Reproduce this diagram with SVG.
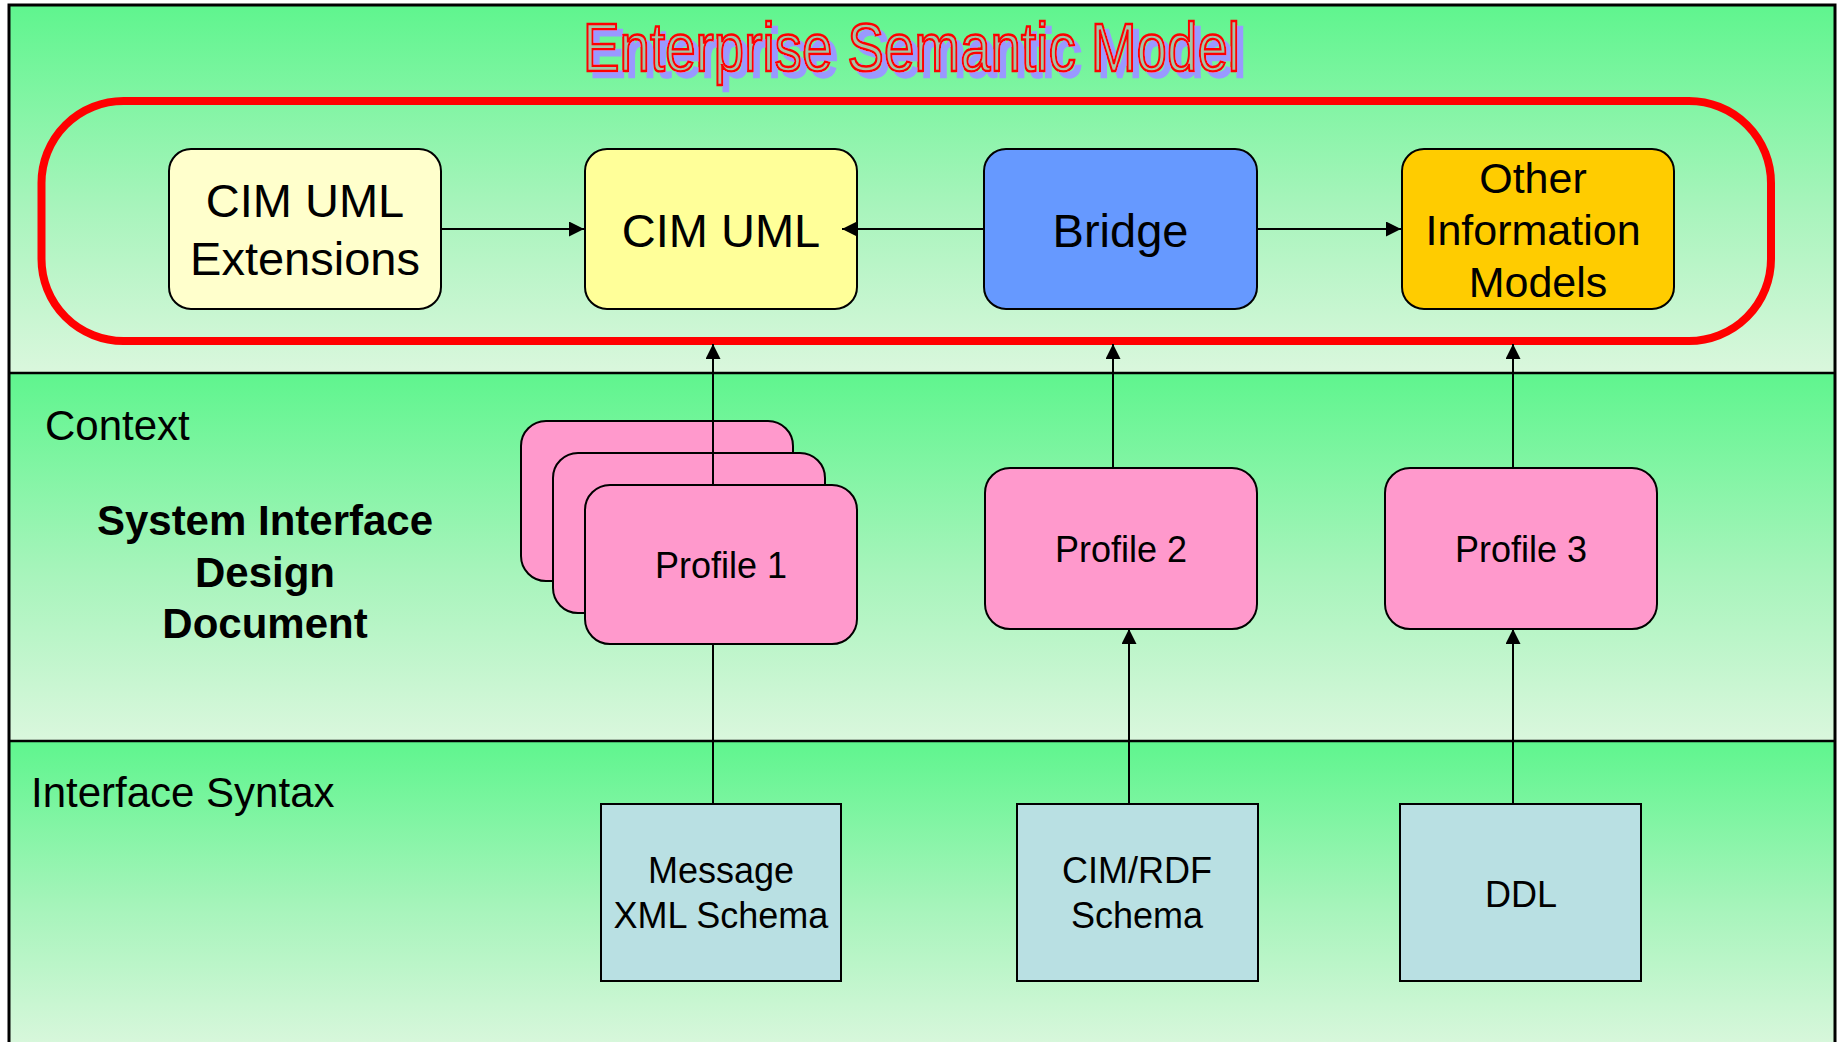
<svg xmlns="http://www.w3.org/2000/svg" width="1837" height="1042" viewBox="0 0 1837 1042">
<style>
  .lbl { font-family: "Liberation Sans", Arial, sans-serif; fill: #000; text-anchor: middle; }
  .node { stroke: #000; stroke-width: 2; }
  .conn { stroke: #000; stroke-width: 2; fill: none; }
  .div { stroke: #000; stroke-width: 2.5; }
</style>
<defs>
  <linearGradient id="band" x1="0" y1="0" x2="0" y2="1">
    <stop offset="0" stop-color="#5FF58E"/>
    <stop offset="0.55" stop-color="#A8F4BC"/>
    <stop offset="1" stop-color="#DAF7DD"/>
  </linearGradient>
  <filter id="shadow" x="-5%" y="-20%" width="115%" height="150%">
    <feFlood flood-color="#9999FF" result="c"/>
    <feComposite in="c" in2="SourceAlpha" operator="in" result="s"/>
    <feOffset in="s" dx="6" dy="6" result="so"/>
    <feMerge>
      <feMergeNode in="so"/>
      <feMergeNode in="SourceGraphic"/>
    </feMerge>
  </filter>
  <marker id="arr" markerUnits="userSpaceOnUse" markerWidth="16" markerHeight="16" refX="15" refY="7.5" orient="auto">
    <path d="M0,0 L15,7.5 L0,15 z" fill="#000"/>
  </marker>
</defs>

<g id="bands">
  <rect x="9" y="5" width="1826" height="368" fill="url(#band)"/>
  <rect x="9" y="373" width="1826" height="368" fill="url(#band)"/>
  <rect x="9" y="741" width="1826" height="310" fill="url(#band)"/>
  <line class="div" x1="9" y1="373" x2="1835" y2="373"/>
  <line class="div" x1="9" y1="741" x2="1835" y2="741"/>
  <rect x="9" y="5" width="1826" height="1060" fill="none" stroke="#000" stroke-width="3"/>
</g>

<g id="title">
  <text x="583" y="71" font-family="'Liberation Sans Narrow', 'Liberation Sans', Arial, sans-serif" font-size="69" fill="#A2C6A8" stroke="#FF0000" stroke-width="2.5" textLength="657" lengthAdjust="spacingAndGlyphs" filter="url(#shadow)">Enterprise Semantic Model</text>
</g>

<g id="esm-boundary">
  <rect x="41.5" y="101" width="1729.5" height="240" rx="82" ry="82" fill="none" stroke="#FF0000" stroke-width="8"/>
</g>

<g id="labels">
  <text x="45" y="440" font-family="'Liberation Sans', Arial, sans-serif" font-size="42">Context</text>
  <text class="lbl" x="265" y="535" font-size="42" font-weight="bold">System Interface</text>
  <text class="lbl" x="265" y="587" font-size="42" font-weight="bold">Design</text>
  <text class="lbl" x="265" y="638" font-size="42" font-weight="bold">Document</text>
  <text x="31" y="807" font-family="'Liberation Sans', Arial, sans-serif" font-size="42">Interface Syntax</text>
</g>

<g id="cim-uml-extensions">
  <rect class="node" x="169" y="149" width="272" height="160" rx="22" fill="#FFFFCC"/>
  <text class="lbl" x="305" y="217" font-size="47">CIM UML</text>
  <text class="lbl" x="305" y="275" font-size="47">Extensions</text>
</g>
<g id="cim-uml">
  <rect class="node" x="585" y="149" width="272" height="160" rx="22" fill="#FFFF99"/>
  <text class="lbl" x="721" y="247" font-size="47">CIM UML</text>
</g>
<g id="bridge">
  <rect class="node" x="984" y="149" width="273" height="160" rx="22" fill="#6699FF"/>
  <text class="lbl" x="1120.5" y="247" font-size="47">Bridge</text>
</g>
<g id="other-models">
  <rect class="node" x="1402" y="149" width="272" height="160" rx="22" fill="#FFCC00"/>
  <text class="lbl" x="1533" y="193" font-size="43">Other</text>
  <text class="lbl" x="1533" y="245" font-size="43">Information</text>
  <text class="lbl" x="1538" y="297" font-size="43">Models</text>
</g>

<g id="profile-1">
  <rect class="node" x="521" y="421" width="272" height="160" rx="25" fill="#FF99CC"/>
  <rect class="node" x="553" y="453" width="272" height="160" rx="25" fill="#FF99CC"/>
  <rect class="node" x="585" y="485" width="272" height="159" rx="25" fill="#FF99CC"/>
  <text class="lbl" x="721" y="578" font-size="36">Profile 1</text>
</g>
<g id="profile-2">
  <rect class="node" x="985" y="468" width="272" height="161" rx="25" fill="#FF99CC"/>
  <text class="lbl" x="1121" y="562" font-size="36">Profile 2</text>
</g>
<g id="profile-3">
  <rect class="node" x="1385" y="468" width="272" height="161" rx="25" fill="#FF99CC"/>
  <text class="lbl" x="1521" y="562" font-size="36">Profile 3</text>
</g>

<g id="message-xml-schema">
  <rect class="node" x="601" y="804" width="240" height="177" fill="#B9E0E3"/>
  <text class="lbl" x="721" y="883" font-size="36">Message</text>
  <text class="lbl" x="721" y="928" font-size="36">XML Schema</text>
</g>
<g id="cim-rdf-schema">
  <rect class="node" x="1017" y="804" width="241" height="177" fill="#B9E0E3"/>
  <text class="lbl" x="1137" y="883" font-size="36">CIM/RDF</text>
  <text class="lbl" x="1137" y="928" font-size="36">Schema</text>
</g>
<g id="ddl">
  <rect class="node" x="1400" y="804" width="241" height="177" fill="#B9E0E3"/>
  <text class="lbl" x="1521" y="907" font-size="36">DDL</text>
</g>

<g id="connectors">
  <line class="conn" x1="441" y1="229" x2="584" y2="229" marker-end="url(#arr)"/>
  <line class="conn" x1="984" y1="229" x2="842" y2="229" marker-end="url(#arr)"/>
  <line class="conn" x1="1257" y1="229" x2="1401" y2="229" marker-end="url(#arr)"/>
  <line class="conn" x1="713" y1="485" x2="713" y2="344" marker-end="url(#arr)"/>
  <line class="conn" x1="1113" y1="468" x2="1113" y2="344" marker-end="url(#arr)"/>
  <line class="conn" x1="1513" y1="468" x2="1513" y2="344" marker-end="url(#arr)"/>
  <line class="conn" x1="713" y1="804" x2="713" y2="644"/>
  <line class="conn" x1="1129" y1="804" x2="1129" y2="629" marker-end="url(#arr)"/>
  <line class="conn" x1="1513" y1="804" x2="1513" y2="629" marker-end="url(#arr)"/>
</g>
</svg>
